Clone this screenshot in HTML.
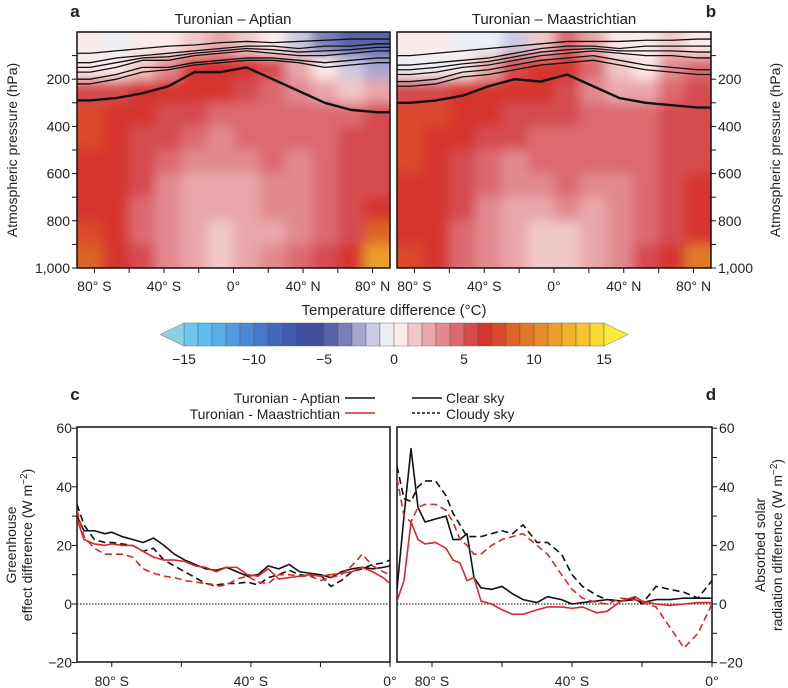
<!DOCTYPE html>
<html><head><meta charset="utf-8"><style>
html,body{margin:0;padding:0;background:#fff;}
svg{display:block;font-family:"Liberation Sans",Arial,sans-serif;}
</style></head><body>
<svg id="fig" width="788" height="688" viewBox="0 0 788 688" xmlns="http://www.w3.org/2000/svg">
<defs>
<filter id="blur" x="-10%" y="-10%" width="120%" height="120%"><feGaussianBlur stdDeviation="6"/></filter>
<clipPath id="clipA"><rect x="77" y="32" width="313" height="236"/></clipPath>
<clipPath id="clipB"><rect x="397" y="32" width="314" height="236"/></clipPath>
<clipPath id="clipC"><rect x="77" y="427" width="313" height="235"/></clipPath>
<clipPath id="clipD"><rect x="397" y="427" width="315" height="235"/></clipPath>
</defs>
<g id="root"></g>
</svg>
<script>
// ---------- data: heatmaps (rows 0-1000 hPa by 100, cols -90..90 by 15) ----------
const heatLats = [-82.5,-67.5,-52.5,-37.5,-22.5,-7.5,7.5,22.5,37.5,52.5,67.5,82.5];
const heatLevels = [50,150,250,350,450,550,650,750,850,950];
const heatA = [
 [0,-1,0,0,1,2,1,0,-2,-4,-5,-5],
 [0,0,1,3,6,6,6,5,2,0,-2,-3],
 [5,5,6,6,6,6,5,4,3,2,1,2],
 [7,6,6,5,5,4,4,4,4,4,4,5],
 [7,6,5,5,4,3,4,4,4,4,5,5],
 [6,6,5,4,3,3,3,4,3,4,5,5],
 [6,6,5,3,2,2,2,3,3,4,5,5],
 [6,6,4,3,2,2,2,3,3,4,5,6],
 [7,6,4,3,2,1,2,2,3,4,5,8],
 [8,6,5,3,2,1,2,3,4,5,6,11]];
const heatB = [
 [0,0,-1,-1,-2,1,4,2,0,0,1,0],
 [-1,-1,0,2,5,6,6,4,1,0,3,4],
 [5,5,6,6,6,6,5,3,2,2,4,5],
 [7,7,6,6,5,5,5,4,4,4,5,5],
 [7,6,6,5,5,4,4,4,4,4,5,5],
 [7,6,5,4,3,4,4,4,4,4,5,5],
 [6,6,5,4,3,3,4,3,3,4,5,6],
 [6,6,5,3,2,2,3,2,3,4,5,6],
 [6,6,4,3,2,1,1,2,3,4,5,6],
 [7,6,4,3,2,1,1,2,3,5,6,9]];
// contour lines (pressure of contour at each column)
const contourA = [
 [290,280,260,230,170,170,150,200,250,300,330,340],
 [220,200,170,160,140,130,120,120,130,150,140,130],
 [200,180,150,150,130,120,110,110,120,130,120,110],
 [170,150,120,120,100,90,80,90,100,100,90,80],
 [150,130,110,105,90,80,70,75,85,80,75,65],
 [130,110,100,90,80,70,60,60,70,60,60,50],
 [90,80,70,60,55,45,40,45,40,35,30,30]];
const contourB = [
 [300,290,270,230,200,210,180,230,280,300,310,320],
 [230,220,190,180,160,140,130,120,140,160,170,180],
 [210,200,170,160,140,120,110,100,120,140,150,160],
 [180,170,150,140,120,100,90,80,90,100,100,110],
 [160,150,135,125,105,85,75,70,80,80,80,85],
 [140,130,120,110,90,70,60,60,70,60,60,60],
 [100,90,80,70,60,50,40,40,40,35,35,30]];
const colorTicks = [-15,-10,-5,0,5,10,15];
const colorBoxes = ["#6cc8ee","#5cbdf0","#58aee8","#539be0","#4c87d4","#4777c8","#4368bb","#3f5aae","#3d50a3","#444e9e","#5a62a8","#7b7fb9","#a6a6d0","#cbcae3","#eceef6","#fbeaea","#f1c8c9","#e8a7aa","#e28a8f","#dc6a70","#d64b4f","#d5352f","#d94a2a","#dc6427","#e17a27","#e68c28","#eb9f2a","#f0b22c","#f4c52f","#f7d932"];
// ---------- data: line panels ----------
const latC = [-90,-88,-85,-82,-80,-77,-74,-71,-68,-65,-62,-59,-56,-53,-50,-47,-44,-41,-38,-35,-32,-29,-26,-23,-20,-17,-14,-11,-8,-5,-2,0];
const cAptClear = [30,25,25,24,24.5,23,22,21,22.5,20,17,15,13.5,12,11.5,12.5,11,9.5,10,13,12,13.5,11,10.5,10,9,11,12,12.5,12,12.5,13];
const cAptCloudy = [34,27,22,21,21,20.5,20,18,19,15,13,11,9,7,6.5,7,7,7.5,6.5,9,10,11.5,10,9.5,10,6,8,11,12,13.5,14,15];
const cMaaClear = [29,22,20.5,20,20.5,20,20,18,16,15,15,14.5,13,12.5,11,12.5,12.5,10,9.5,12,8.5,9,9.5,10,9.5,10,10.5,11,12.5,11,9,7];
const cMaaCloudy = [32,23,19,17,17,17,16,12,10.5,9.5,9,8,7.5,7,6,6.5,8.5,9.5,7.5,7,10,10,9.5,9.5,8,9,10,13,17,13,11,10];
const latD = [-90,-88,-86,-84,-82,-79,-76,-74,-72,-70,-68,-66,-63,-60,-57,-54,-50,-47,-43,-40,-37,-33,-30,-26,-22,-20,-16,-12,-8,-4,0];
const dAptClear = [5,30,53,33,28,29,30,22,22,24,9,5.5,5,6,3.5,1.5,0.5,2.5,1.5,0,0.5,1,1.5,1,1.5,0.5,1.5,1.5,2,2,2];
const dAptCloudy = [47,36,35,40,42,42,37,31,27,23,23,23,24,25,24,27,21,21,17,10,6,3,1.5,1,2,0,6,5,4,2,8];
const dMaaClear = [1,8,28,22,20.5,21,19,15,14,8,9,1,0,-2,-3.5,-3.5,-2,-1,-1,-1.5,-1,-3,-2.5,1,2.5,1,0,-0.5,0,0.5,0.5];
const dMaaCloudy = [43,30,28,33,34,34,32,28,22,20,17,17,20,22,23,24,20,17,10,5,2,0.5,0,2,1.5,0.5,-1,-8,-15,-10,0];
const yTicksLine = [-20,0,20,40,60];
const pTicks = [200,400,600,800,1000];

const NS="http://www.w3.org/2000/svg";
const root=document.getElementById('root');
function el(tag,attrs,parent,text){const e=document.createElementNS(NS,tag);for(const k in attrs)e.setAttribute(k,attrs[k]);if(text!==undefined)e.textContent=text;(parent||root).appendChild(e);return e;}
function col(v){let i=Math.floor(v+15);if(i<0)i=0;if(i>29)i=29;return colorBoxes[i];}
function latLabel(l){return l===0?'0°':(Math.abs(l)+'° '+(l<0?'S':'N'));}

// ---------- top heatmap panels ----------
function heatPanel(x0,x1,data,contours,clip,name){
  const xs=l=>x0+(l+90)/180*(x1-x0);
  const ys=p=>32+p/1000*236;
  const g=el('g',{'clip-path':'url(#'+clip+')'});
  
  
  const gb=el('g',{filter:'url(#blur)'},g);
  data.forEach((row,r)=>row.forEach((v,c)=>{
    let xa=xs(heatLats[c]-7.5), xb=xs(heatLats[c]+7.5), ya=ys(heatLevels[r]-50), yb=ys(heatLevels[r]+50);
    if(c===0)xa-=20; if(c===row.length-1)xb+=20; if(r===0)ya-=20; if(r===data.length-1)yb+=20;
    const rc=el('rect',{x:xa,y:ya,width:xb-xa+0.5,height:yb-ya+0.5,fill:col(v)},gb);
    
    
  }));
  contours.forEach((ln,k)=>{
    const pts=ln.map((p,c)=>xs(heatLats[c])+','+ys(p));
    pts.unshift(xs(-95)+','+ys(ln[0]));pts.push(xs(95)+','+ys(ln[ln.length-1]));
    const pl=el('polyline',{points:pts.join(' '),fill:'none',stroke:'#111','stroke-width':k===0?2.4:1.3,'stroke-linejoin':'round'},g);
    
    
  });
  const fr=el('rect',{x:x0,y:32,width:x1-x0,height:236,fill:'none',stroke:'#111','stroke-width':1.5});
  
  
  for(let l=-80;l<=80;l+=20){el('line',{x1:xs(l),x2:xs(l),y1:268,y2:273,stroke:'#111'});}
  [-80,-40,0,40,80].forEach(l=>{const t=el('text',{x:xs(l),y:291,'font-size':14,'text-anchor':'middle',fill:'#222'},root,latLabel(l));
    });
  return ys;
}
const ysA=heatPanel(77,390,heatA,contourA,'clipA','panel-a');
const ysB=heatPanel(397,711,heatB,contourB,'clipB','panel-b');
for(let p=100;p<=1000;p+=100){el('line',{x1:72,x2:77,y1:ysA(p),y2:ysA(p),stroke:'#111'});el('line',{x1:711,x2:716,y1:ysA(p),y2:ysA(p),stroke:'#111'});}
pTicks.forEach(p=>{
  const a=el('text',{x:70,y:ysA(p)+5,'font-size':14,'text-anchor':'end',fill:'#222'},root,p===1000?'1,000':String(p));
  
  const b=el('text',{x:718,y:ysA(p)+5,'font-size':14,'text-anchor':'start',fill:'#222'},root,p===1000?'1,000':String(p));
  
});

// ---------- colorbar ----------
const cbX=v=>184+(v+15)*14;
colorBoxes.forEach((c,i)=>{const r=el('rect',{x:cbX(i-15),y:323,width:14,height:23,fill:c,stroke:'#555','stroke-width':0.4});
  });
const tl=el('polygon',{points:'184,323 160,334.5 184,346',fill:'#8ecfe0',stroke:'#555','stroke-width':0.4});

const tr=el('polygon',{points:'604,323 628,334.5 604,346',fill:'#f8ec3a',stroke:'#555','stroke-width':0.4});

colorTicks.forEach(v=>{const t=el('text',{x:cbX(v),y:364,'font-size':14,'text-anchor':'middle',fill:'#222'},root,v<0?'\u2212'+Math.abs(v):String(v));
  });

// ---------- line panels ----------
function linePanel(x0,x1,lats,series,clip,name,rightAxis){
  const xs=l=>x0+(l+90)/90*(x1-x0);
  const ys=v=>604-v*2.93;
  const fr=el('rect',{x:x0,y:427,width:x1-x0,height:235,fill:'none',stroke:'#111','stroke-width':1.5});
  
  const z=el('line',{x1:x0,x2:x1,y1:ys(0),y2:ys(0),stroke:'#333','stroke-width':1.2,'stroke-dasharray':'1.5,1.5'});
  
  const g=el('g',{'clip-path':'url(#'+clip+')'});
  series.forEach(s=>{
    const pl=el('polyline',{points:s.v.map((v,i)=>xs(lats[i])+','+ys(v)).join(' '),fill:'none',stroke:s.c,'stroke-width':1.6,'stroke-dasharray':s.d?'7,4':'none','stroke-linejoin':'round'},g);
    
  });
  for(let l=-80;l<=0;l+=20)el('line',{x1:xs(l),x2:xs(l),y1:662,y2:667,stroke:'#111'});
  [-80,-40,0].forEach(l=>{const t=el('text',{x:xs(l),y:686,'font-size':14,'text-anchor':'middle',fill:'#222'},root,latLabel(l));
    });
  for(let v=-20;v<=60;v+=10){const xx=rightAxis?x1:x0;el('line',{x1:rightAxis?xx:xx-5,x2:rightAxis?xx+5:xx,y1:ys(v),y2:ys(v),stroke:'#111'});}
  yTicksLine.forEach(v=>{const t=el('text',{x:rightAxis?x1+7:x0-5,y:ys(v)+5,'font-size':14,'text-anchor':rightAxis?'start':'end',fill:'#222'},root,v<0?'\u2212'+Math.abs(v):String(v));
    });
}
linePanel(77,390,latC,[
 {v:cAptClear,c:'#111',d:false,n:'c-aptian-clear-line'},
 {v:cAptCloudy,c:'#111',d:true,n:'c-aptian-cloudy-line'},
 {v:cMaaClear,c:'#d42a2a',d:false,n:'c-maastrichtian-clear-line'},
 {v:cMaaCloudy,c:'#d42a2a',d:true,n:'c-maastrichtian-cloudy-line'}],'clipC','panel-c',false);
linePanel(397,712,latD,[
 {v:dAptClear,c:'#111',d:false,n:'d-aptian-clear-line'},
 {v:dAptCloudy,c:'#111',d:true,n:'d-aptian-cloudy-line'},
 {v:dMaaClear,c:'#d42a2a',d:false,n:'d-maastrichtian-clear-line'},
 {v:dMaaCloudy,c:'#d42a2a',d:true,n:'d-maastrichtian-cloudy-line'}],'clipD','panel-d',true);
</script>
<script>
const svg=document.getElementById('fig');
function T(x,y,s,txt,name,opts){const t=document.createElementNS("http://www.w3.org/2000/svg",'text');t.setAttribute('x',x);t.setAttribute('y',y);t.setAttribute('font-size',s);t.setAttribute('fill','#222');
 if(opts&&opts.anchor)t.setAttribute('text-anchor',opts.anchor);if(opts&&opts.bold)t.setAttribute('font-weight','bold');if(opts&&opts.rot)t.setAttribute('transform','rotate(-90 '+x+' '+y+')');
 t.innerHTML=txt;
 
 
 svg.appendChild(t);return t;}
T(75,17,17,'a','panel-a-label',{bold:true,anchor:'middle'});
T(711,17,17,'b','panel-b-label',{bold:true,anchor:'middle'});
T(233,24,15,'Turonian – Aptian','panel-a-title',{anchor:'middle'});
T(554,24,15,'Turonian – Maastrichtian','panel-b-title',{anchor:'middle'});
T(17,150,14,'Atmospheric pressure (hPa)','y-axis-title-left',{anchor:'middle',rot:true});
T(780,150,14,'Atmospheric pressure (hPa)','y-axis-title-right',{anchor:'middle',rot:true});
T(394,315,15,'Temperature difference (°C)','colorbar-title',{anchor:'middle'});
T(75,400,17,'c','panel-c-label',{bold:true,anchor:'middle'});
T(711,400,17,'d','panel-d-label',{bold:true,anchor:'middle'});
T(340,403,14,'Turonian - Aptian','legend-aptian',{anchor:'end'});
T(340,419,14,'Turonian - Maastrichtian','legend-maastrichtian',{anchor:'end'});
T(446,403,14,'Clear sky','legend-clear-sky',{});
T(446,419,14,'Cloudy sky','legend-cloudy-sky',{});
T(16,545,14,'Greenhouse','y-axis-title-c-line1',{anchor:'middle',rot:true});
T(32,545,14,'effect difference (W m<tspan dy="-5" font-size="10">−2</tspan><tspan dy="5">)</tspan>','y-axis-title-c-line2',{anchor:'middle',rot:true});
T(765,545,14,'Absorbed solar','y-axis-title-d-line1',{anchor:'middle',rot:true});
T(782,545,14,'radiation difference (W m<tspan dy="-5" font-size="10">−2</tspan><tspan dy="5">)</tspan>','y-axis-title-d-line2',{anchor:'middle',rot:true});
function L(x1,x2,y,c,dash,name){const l=document.createElementNS("http://www.w3.org/2000/svg",'line');l.setAttribute('x1',x1);l.setAttribute('x2',x2);l.setAttribute('y1',y);l.setAttribute('y2',y);l.setAttribute('stroke',c);l.setAttribute('stroke-width',1.6);if(dash)l.setAttribute('stroke-dasharray','3,2');
 
 
 svg.appendChild(l);}
L(345,375,398,'#111',false,'legend-swatch-aptian');
L(345,375,413,'#d42a2a',false,'legend-swatch-maastrichtian');
L(412,442,398,'#111',false,'legend-swatch-clear');
L(412,442,413,'#111',true,'legend-swatch-cloudy');
</script>
</body></html>
